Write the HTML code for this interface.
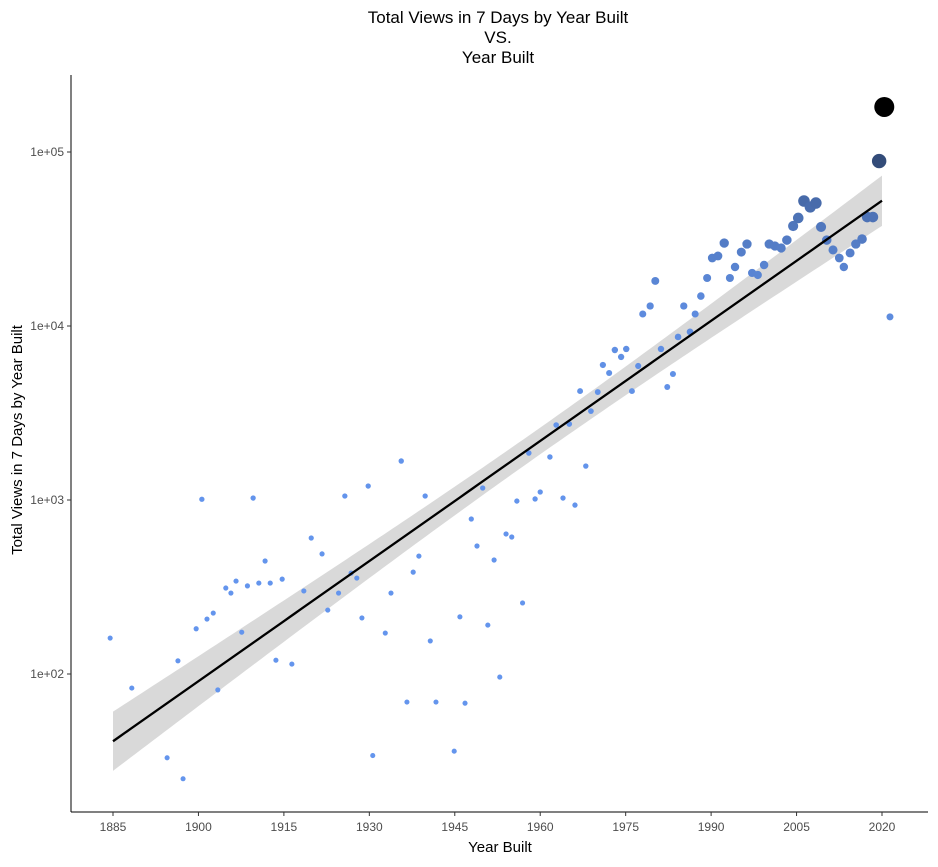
<!DOCTYPE html>
<html><head><meta charset="utf-8"><style>
body{margin:0;background:#fff;font-family:"Liberation Sans",sans-serif}
</style></head><body>
<svg id="chart" width="938" height="862" xmlns="http://www.w3.org/2000/svg">
<g font-size="17" text-anchor="middle" fill="#000">
<text x="498" y="23">Total Views in 7 Days by Year Built</text>
<text x="498" y="43">VS.</text>
<text x="498" y="63">Year Built</text>
</g>
<g id="band"></g>
<g id="pts"></g>
<g id="fit"></g>
<g id="axes"></g>
<text x="500" y="852" font-size="15" text-anchor="middle">Year Built</text>
<text transform="translate(22,440) rotate(-90)" font-size="15" text-anchor="middle">Total Views in 7 Days by Year Built</text>
</svg>
<script>
const years=[1884.5,1888.3,1894.5,1896.4,1897.3,1899.6,1900.6,1901.5,1902.6,1903.4,1904.8,1905.7,1906.6,1907.6,1908.6,1909.6,1910.6,1911.7,1912.6,1913.6,1914.7,1916.4,1918.5,1919.8,1921.7,1922.7,1924.6,1925.7,1926.8,1927.8,1928.7,1929.8,1930.6,1932.8,1933.8,1935.6,1936.6,1937.7,1938.7,1939.8,1940.7,1941.7,1944.9,1945.9,1946.8,1947.9,1948.9,1949.9,1950.8,1951.9,1952.9,1954.0,1955.0,1955.9,1956.9,1958.0,1959.1,1960.0,1961.7,1962.8,1964.0,1965.1,1966.1,1967.0,1968.0,1968.9,1970.1,1971.0,1972.1,1973.1,1974.2,1975.1,1976.1,1977.2,1978.0,1979.3,1980.2,1981.2,1982.3,1983.3,1984.2,1985.2,1986.3,1987.2,1988.2,1989.3,1990.2,1991.2,1992.3,1993.3,1994.2,1995.3,1996.3,1997.2,1998.2,1999.3,2000.2,2001.2,2002.3,2003.3,2004.4,2005.3,2006.3,2007.4,2008.4,2009.3,2010.3,2011.4,2012.5,2013.3,2014.4,2015.4,2016.5,2017.4,2018.4,2019.5,2020.4,2021.4];
const views=[161,83,33,119,25,182,1010,207,224,81,312,292,342,174,321,1026,333,446,333,120,351,114,300,605,490,233,292,1054,380,356,210,1203,34,172,292,1675,69,385,476,1054,155,69,36,213,68,778,544,1172,191,452,96,638,613,986,256,1862,1014,1112,1767,2698,1026,2733,935,4227,1567,3243,4175,5970,5370,7280,6640,7380,4227,5890,11720,13030,18150,7380,4460,5300,8650,13030,9250,11720,14860,18880,24600,25260,29990,18880,21830,26600,29590,20180,19640,22420,29590,28840,28070,31180,37560,41770,52300,48290,50900,37100,31180,27350,24600,21830,26300,29590,31600,42300,42300,88700,181500,11280];
const xTicks=[1885,1900,1915,1930,1945,1960,1975,1990,2005,2020];
const yTicks=[100,1000,10000,100000];
const yTickLabels=["1e+02","1e+03","1e+04","1e+05"];
const NS="http://www.w3.org/2000/svg";
const X=v=>113+(v-1885)*(882-113)/135;
const Y=v=>674-(Math.log10(v)-2)*174;
function mk(tag,attrs,parent){const e=document.createElementNS(NS,tag);for(const k in attrs)e.setAttribute(k,attrs[k]);parent.appendChild(e);return e;}
const n=years.length;const ly=views.map(v=>Math.log10(v));
const mx=years.reduce((a,b)=>a+b)/n,my=ly.reduce((a,b)=>a+b)/n;
let sxx=0,sxy=0;for(let i=0;i<n;i++){sxx+=(years[i]-mx)**2;sxy+=(years[i]-mx)*(ly[i]-my);}
const b=sxy/sxx,a=my-b*mx;let sse=0;for(let i=0;i<n;i++)sse+=(ly[i]-a-b*years[i])**2;
const s=Math.sqrt(sse/(n-2));
const x0=1885,x1=2020;const up=[],lo=[],ln=[];
for(let x=x0;x<=x1;x+=1){const f=a+b*x+0.02;const se=1.98*s*Math.sqrt(1/n+(x-mx)**2/sxx);
ln.push(X(x)+","+Y(10**f));up.push(X(x)+","+Y(10**(f+se)));lo.unshift(X(x)+","+Y(10**(f-se)));}
const band=mk('polygon',{points:up.concat(lo).join(' '),fill:'#d9d9d9'},document.getElementById('band'));


const vmax=Math.max(...views);
const pg=document.getElementById('pts');
views.forEach((v,i)=>{const t=v/vmax;const r=Math.sqrt(6.5+93.5*t);
const col=`rgb(${Math.round(100*(1-t))},${Math.round(149*(1-t))},${Math.round(237*(1-t))})`;
const c=mk('circle',{cx:X(years[i]),cy:Y(v),r:r,fill:col},pg);

});
const fl=mk('polyline',{points:ln.join(' '),fill:'none',stroke:'#000','stroke-width':2.3},document.getElementById('fit'));


const ax=document.getElementById('axes');
mk('line',{x1:71,y1:75,x2:71,y2:812,stroke:'#000','stroke-width':1},ax);
mk('line',{x1:71,y1:812,x2:928,y2:812,stroke:'#000','stroke-width':1},ax);
xTicks.forEach(t=>{mk('line',{x1:X(t),y1:812,x2:X(t),y2:816,stroke:'#333'},ax);
const tx=mk('text',{x:X(t),y:831,'font-size':12,'text-anchor':'middle',fill:'#4d4d4d'},ax);tx.textContent=t;

});
yTicks.forEach((t,i)=>{mk('line',{x1:67,y1:Y(t),x2:71,y2:Y(t),stroke:'#333'},ax);
const tx=mk('text',{x:64,y:Y(t)+4,'font-size':12,'text-anchor':'end',fill:'#4d4d4d'},ax);tx.textContent=yTickLabels[i];

});
</script>
</body></html>
